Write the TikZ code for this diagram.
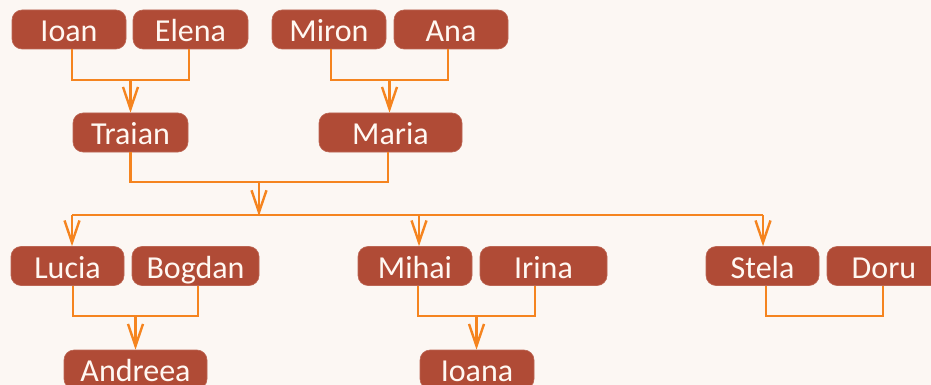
\documentclass[tikz,border=0pt]{standalone}
\usepackage{fontspec}
\setmainfont{Carlito}
\usetikzlibrary{arrows.meta}
\definecolor{bgc}{HTML}{FCF7F3}
\definecolor{boxc}{HTML}{B04B36}
\definecolor{linec}{HTML}{F5841F}
\definecolor{txtc}{HTML}{FFF8F2}
\tikzset{
  person/.style={draw=boxc!85!white, line width=0.6pt, fill=boxc, rounded corners=10pt,
    minimum height=39pt, inner sep=0pt, text=txtc,
    font=\fontsize{32}{38}\selectfont, text height=24pt, text depth=0pt},
  link/.style={draw=linec, line width=2.4pt},
  arr/.style={link, -{Straight Barb[length=22pt,width=15pt]}}
}
\begin{document}
\begin{tikzpicture}[x=1pt,y=-1pt]
\fill[bgc] (0,0) rectangle (931,385);
\useasboundingbox (0,0) rectangle (931,385);
\clip (0,0) rectangle (931,385);
% row 1
\node[person, minimum width=114pt] (Ioan)  at (69,29.5)  {Ioan};
\node[person, minimum width=115pt] (Elena) at (190.5,29.5) {Elena};
\node[person, minimum width=114pt] (Miron) at (329,29.5) {Miron};
\node[person, minimum width=114pt] (Ana)   at (451,29.5) {Ana};
% row 2
\node[person, minimum width=115pt] (Traian) at (130.5,132.5) {Traian};
\node[person, minimum width=143pt] (Maria)  at (390.5,132.5) {Maria};
% row 3
\node[person, minimum width=113pt] (Lucia)  at (67.5,266)  {Lucia};
\node[person, minimum width=127pt] (Bogdan) at (195.5,266) {Bogdan};
\node[person, minimum width=114pt] (Mihai)  at (415,266)   {Mihai};
\node[person, minimum width=127pt] (Irina)  at (543.5,266) {Irina};
\node[person, minimum width=113pt] (Stela)  at (762.5,266) {Stela};
\node[person, minimum width=114pt] (Doru)   at (884,266)   {Doru};
% row 4
\node[person, minimum width=143pt] (Andreea) at (135.5,369.5) {Andreea};
\node[person, minimum width=114pt] (Ioana)   at (477,369.5)   {Ioana};
% junctions
\coordinate (j1) at (130.5,80);
\coordinate (j2) at (389.5,80);
\coordinate (j3) at (259,182);
\coordinate (j3b) at (259,215);
\coordinate (d1) at (72,215);
\coordinate (d2) at (419,215);
\coordinate (d3) at (763,215);
\coordinate (j4) at (135.5,316);
\coordinate (j5) at (476.5,316);
\coordinate (j6) at (824.5,316);
% connectors
\draw[link] ([xshift=3pt]Ioan.south) |- (j1) -| ([xshift=-1.5pt]Elena.south);
\draw[arr] (j1) -- (j1 |- Traian.north);
\draw[link] ([xshift=2pt]Miron.south) |- (j2) -| ([xshift=-3pt]Ana.south);
\draw[arr] (j2) -- (j2 |- Maria.north);
\draw[link] (Traian.south) |- (j3) -| ([xshift=-2.5pt]Maria.south);
\draw[arr] (j3) -- ([yshift=-1pt]j3b);
\draw[link] (d1) -- (d3);
\draw[arr] (d1) -- (d1 |- Lucia.north);
\draw[arr] (d2) -- (d2 |- Mihai.north);
\draw[arr] (d3) -- (d3 |- Stela.north);
\draw[link] ([xshift=5.5pt]Lucia.south) |- (j4) -| ([xshift=2.5pt]Bogdan.south);
\draw[arr] (j4) -- (j4 |- Andreea.north);
\draw[link] ([xshift=3pt]Mihai.south) |- (j5) -| ([xshift=-8.5pt]Irina.south);
\draw[arr] (j5) -- (j5 |- Ioana.north);
\draw[link] ([xshift=3.5pt]Stela.south) |- (j6) -| ([xshift=-1pt]Doru.south);
\end{tikzpicture}
\end{document}
